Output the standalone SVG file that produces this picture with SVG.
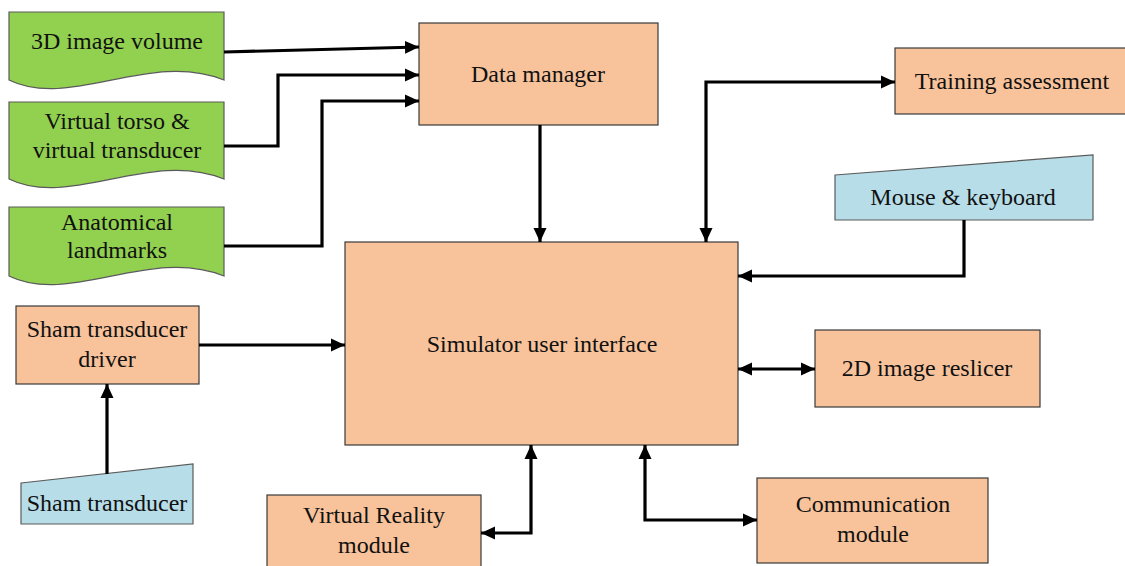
<svg xmlns="http://www.w3.org/2000/svg" width="1125" height="566" viewBox="0 0 1125 566">
  <style>
    .box { fill: #F8C39B; stroke: #3a3a3a; stroke-width: 1.2; }
    .doc { fill: #92D050; stroke: #5a5a5a; stroke-width: 1.2; }
    .input { fill: #B7DDE8; stroke: #5a5a5a; stroke-width: 1.2; }
    .lbl { font-family: "Liberation Serif", "Times New Roman", serif; font-size: 24px; fill: #111; text-anchor: middle; }
    .wire { fill: none; stroke: #000; stroke-width: 3.2; stroke-linejoin: miter; }
    .one { marker-end: url(#head); }
    .two { marker-start: url(#head); marker-end: url(#head); }
  </style>
  <defs>
    <marker id="head" markerUnits="userSpaceOnUse" markerWidth="15" markerHeight="14" refX="14" refY="6.5" orient="auto-start-reverse" viewBox="0 0 15 13">
      <path d="M0,0 L14,6.5 L0,13 Z" fill="#000"/>
    </marker>
  </defs>

  <!-- data sources (document shapes) -->
  <g id="node-volume">
    <path class="doc" d="M9,12 H224 V80 C150,50 70,110 9,80 Z"/>
    <text class="lbl" x="117" y="49">3D image volume</text>
  </g>
  <g id="node-torso">
    <path class="doc" d="M9,102 H224 V179 C150,149 70,209 9,179 Z"/>
    <text class="lbl" x="117" y="129">Virtual torso &amp;</text>
    <text class="lbl" x="117" y="158">virtual transducer</text>
  </g>
  <g id="node-landmarks">
    <path class="doc" d="M9,207 H224 V276 C150,246 70,306 9,276 Z"/>
    <text class="lbl" x="117" y="230">Anatomical</text>
    <text class="lbl" x="117" y="258">landmarks</text>
  </g>

  <!-- processing modules -->
  <g id="node-data-manager">
    <rect class="box" x="419" y="23" width="239" height="102"/>
    <text class="lbl" x="538" y="82">Data manager</text>
  </g>
  <g id="node-training">
    <rect class="box" x="895" y="48" width="235" height="66"/>
    <text class="lbl" x="1012" y="89">Training assessment</text>
  </g>
  <g id="node-mouse">
    <path class="input" d="M835,175 L1093,155 V220 H835 Z"/>
    <text class="lbl" x="963" y="205">Mouse &amp; keyboard</text>
  </g>
  <g id="node-simulator">
    <rect class="box" x="345" y="242" width="393" height="203"/>
    <text class="lbl" x="542" y="352">Simulator user interface</text>
  </g>
  <g id="node-reslicer">
    <rect class="box" x="815" y="330" width="225" height="77"/>
    <text class="lbl" x="927" y="376">2D image reslicer</text>
  </g>
  <g id="node-driver">
    <rect class="box" x="16" y="306" width="183" height="78"/>
    <text class="lbl" x="107" y="337">Sham transducer</text>
    <text class="lbl" x="107" y="367">driver</text>
  </g>
  <g id="node-sham">
    <path class="input" d="M21,483 L193,464 V524 H21 Z"/>
    <text class="lbl" x="107" y="511">Sham transducer</text>
  </g>
  <g id="node-vr">
    <rect class="box" x="267" y="495" width="214" height="80"/>
    <text class="lbl" x="374" y="523">Virtual Reality</text>
    <text class="lbl" x="374" y="553">module</text>
  </g>
  <g id="node-comm">
    <rect class="box" x="757" y="478" width="231" height="85"/>
    <text class="lbl" x="873" y="512">Communication</text>
    <text class="lbl" x="873" y="542">module</text>
  </g>

  <!-- connectors -->
  <g id="connectors">
    <path class="wire one" d="M224,52 L419,47"/>
    <path class="wire one" d="M224,146 H278 V75 H419"/>
    <path class="wire one" d="M224,246 H322 V101 H419"/>
    <path class="wire one" d="M540,125 V242"/>
    <path class="wire two" d="M706,242 V82 H895"/>
    <path class="wire one" d="M964,220 V276 H738"/>
    <path class="wire two" d="M738,369 H815"/>
    <path class="wire one" d="M199,345 H345"/>
    <path class="wire one" d="M107,474 V384"/>
    <path class="wire two" d="M531,445 V533 H481"/>
    <path class="wire two" d="M645,445 V520 H757"/>
  </g>
</svg>
